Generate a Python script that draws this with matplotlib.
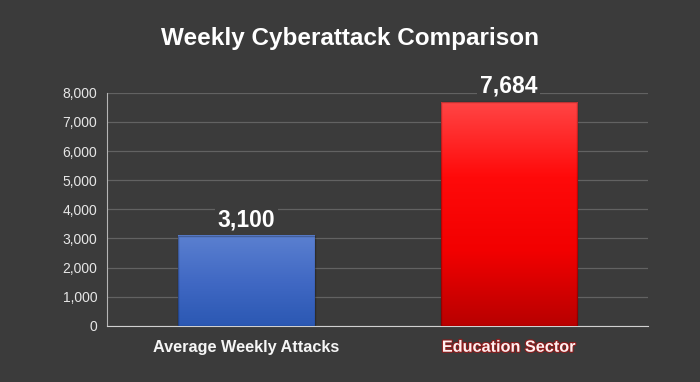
import matplotlib.pyplot as plt
import matplotlib.patheffects as pe
import matplotlib.colors as mcolors
import numpy as np

categorias = ["Average Weekly Attacks", "Education Sector"]
ataques = [3100, 7684]
rotulos = ["3,100", "7,684"]
yticks = [0, 1000, 2000, 3000, 4000, 5000, 6000, 7000, 8000]

fundo = "#3b3b3b"
plt.rcParams['font.family'] = ['Liberation Sans', 'DejaVu Sans']

fig = plt.figure(figsize=(7, 3.82), dpi=100)
fig.patch.set_facecolor(fundo)
ax = fig.add_axes([0.153, 0.147, 0.773, 0.610])
ax.set_facecolor(fundo)

x = np.arange(len(categorias))
barras = ax.bar(x, ataques, width=0.52, color='none', edgecolor='none', zorder=3)

# gradientes (base -> topo)
gradientes = [
    mcolors.LinearSegmentedColormap.from_list('azul', ['#2b58b3', '#4169c4', '#5b80d0']),
    mcolors.LinearSegmentedColormap.from_list('verm', ['#b80000', '#f20000', '#ff0a0a', '#ff4545']),
]
grad = np.linspace(0, 1, 256).reshape(-1, 1)
for barra, cmap in zip(barras, gradientes):
    x0, y0 = barra.get_x(), barra.get_y()
    w, h = barra.get_width(), barra.get_height()
    ax.imshow(grad, cmap=cmap, origin='lower', aspect='auto',
              extent=(x0, x0 + w, y0, y0 + h), zorder=3)
    ax.add_patch(plt.Rectangle((x0, y0), w, h, fill=False,
                               edgecolor=(0, 0, 0, 0.25), linewidth=1, zorder=4))

for xi, v, txt in zip(x, ataques, rotulos):
    ax.text(xi, v + 150, txt, ha='center', va='bottom', fontsize=16.5, fontweight='bold',
            color='white', zorder=5,
            bbox=dict(facecolor=fundo, edgecolor='none', pad=2))

ax.set_xlim(-0.532, 1.532)
ax.set_ylim(0, 8000)
ax.set_yticks(yticks)
ax.set_yticklabels([f'{t:,}' for t in yticks], fontsize=10, color='#e6e6e6')
ax.set_xticks(x)
ax.set_xticklabels(categorias, fontsize=11.7, fontweight='bold', color='#f5f5f5')
ax.get_xticklabels()[1].set_color('#fff0f0')
ax.get_xticklabels()[1].set_path_effects([pe.withStroke(linewidth=1.6, foreground='#8a1c1c')])
ax.tick_params(axis='both', length=0)
ax.tick_params(axis='x', pad=10)
ax.tick_params(axis='y', pad=7)

ax.grid(axis='y', color='#626262', linewidth=0.9, zorder=0)
ax.set_axisbelow(True)
for lado in ['top', 'right']:
    ax.spines[lado].set_visible(False)
ax.spines['left'].set_color('#b5b5b5')
ax.spines['bottom'].set_color('#d0d0d0')

fig.text(0.5, 0.9, 'Weekly Cyberattack Comparison', ha='center', va='center',
         fontsize=17.5, fontweight='bold', color='white')

fig.savefig('out.png', dpi=100, facecolor=fundo)
